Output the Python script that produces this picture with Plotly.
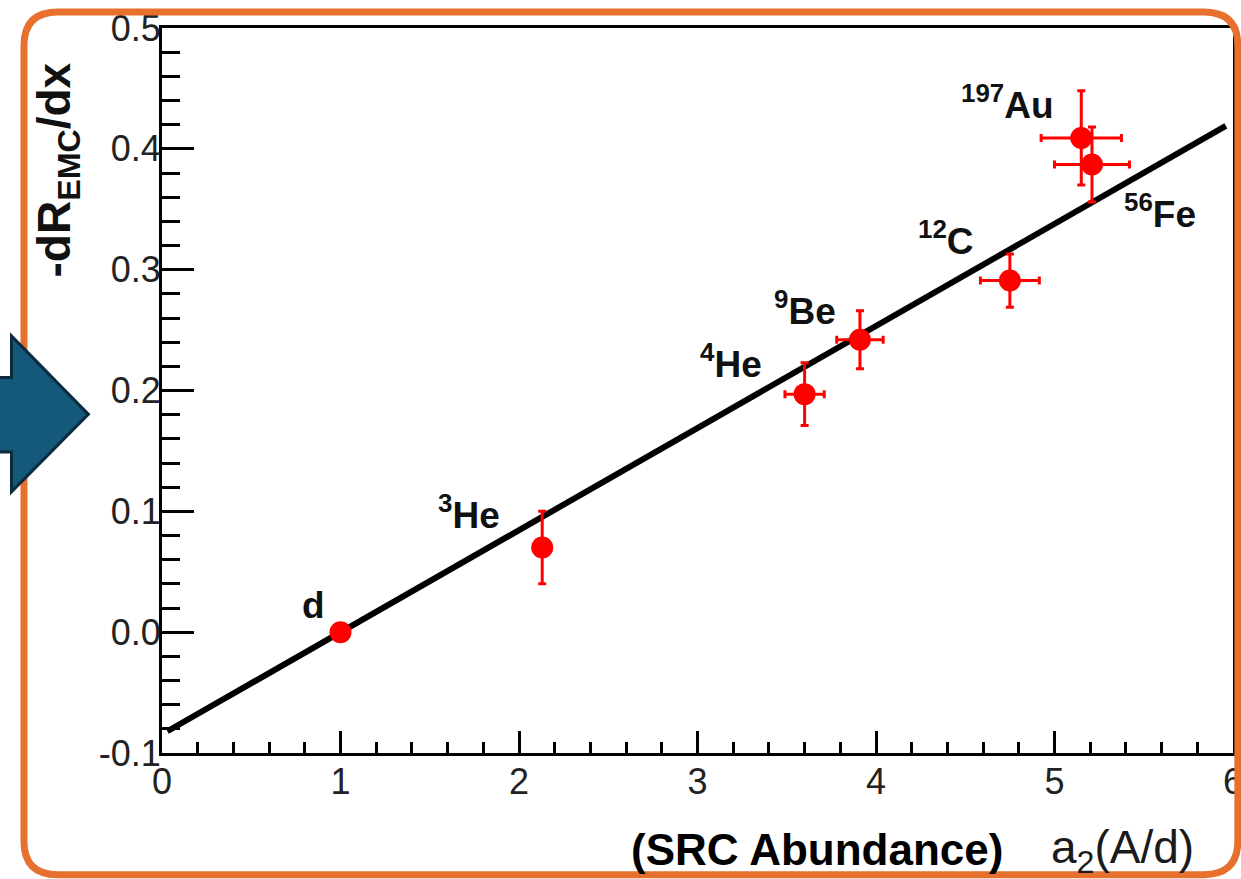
import plotly.graph_objects as go

# ---------------- data ----------------
nuclei = ["d", "<sup>3</sup>He", "<sup>4</sup>He", "<sup>9</sup>Be", "<sup>12</sup>C", "<sup>197</sup>Au", "<sup>56</sup>Fe"]
a2 = [1.00, 2.13, 3.60, 3.91, 4.75, 5.15, 5.21]
a2_err = [0.0, 0.0, 0.11, 0.13, 0.165, 0.225, 0.21]
emc_slope = [0.000, 0.070, 0.197, 0.242, 0.291, 0.409, 0.387]
emc_err = [0.0, 0.030, 0.026, 0.024, 0.022, 0.039, 0.031]

# label positions (data units)
label_x = [0.85, 1.72, 3.185, 3.605, 4.39, 4.735, 5.59]
label_y = [0.022, 0.099, 0.224, 0.268, 0.326, 0.438, 0.348]

# linear fit end points
fit_x = [0.03, 5.96]
fit_y = [-0.082, 0.419]

x_ticks = [0, 1, 2, 3, 4, 5, 6]
x_ticktext = ["0", "1", "2", "3", "4", "5", "6"]
y_ticks = [-0.1, 0.0, 0.1, 0.2, 0.3, 0.4, 0.5]
y_ticktext = ["-0.1", "0.0", "0.1", "0.2", "0.3", "0.4", "0.5"]

# ---------------- geometry ----------------
SX = 1.008  # the page is captured slightly narrower than drawn; compensate
WIDTH, HEIGHT = round(1241 * SX), 879
L, R, T, B = round(161 * SX), round(1233 * SX), 23, 753
PW, PH = R - L, B - T


def pxx(x):
    return (x * SX - L) / PW


def pxy(y):
    return (B - y) / PH


def px(x, y):
    return f"{pxx(x):.5f},{pxy(y):.5f}"


FONT = "Liberation Sans, Arial, Helvetica, sans-serif"

fig = go.Figure()

fig.add_trace(go.Scatter(
    x=fit_x, y=fit_y, mode="lines",
    line=dict(color="black", width=6),
    hoverinfo="skip", showlegend=False,
))

fig.add_trace(go.Scatter(
    x=a2, y=emc_slope, mode="markers",
    marker=dict(color="#ff0000", size=22, line=dict(width=0)),
    error_x=dict(type="data", array=a2_err, color="#ff0000", thickness=3, width=4),
    error_y=dict(type="data", array=emc_err, color="#ff0000", thickness=3, width=4),
    showlegend=False,
))

annotations = []
for name, lx, ly in zip(nuclei, label_x, label_y):
    annotations.append(dict(
        x=lx, y=ly, xref="x", yref="y", text=f"<b>{name}</b>",
        showarrow=False, xanchor="center", yanchor="middle",
        font=dict(family=FONT, size=37, color="#111111"),
    ))

# y-axis title
annotations.append(dict(
    x=pxx(56), y=pxy(166), xref="paper", yref="paper",
    text="<b>-dR<sub>EMC</sub>/dx</b>", textangle=-90,
    showarrow=False, xanchor="center", yanchor="middle",
    font=dict(family=FONT, size=46, color="#111111"),
))
# x-axis titles
annotations.append(dict(
    x=pxx(817), y=pxy(850), xref="paper", yref="paper",
    text="<b>(SRC Abundance)</b>", showarrow=False,
    xanchor="center", yanchor="middle",
    font=dict(family=FONT, size=44, color="black"),
))
annotations.append(dict(
    x=pxx(1122), y=pxy(851), xref="paper", yref="paper",
    text="a<sub>2</sub>(A/d)", showarrow=False,
    xanchor="center", yanchor="middle",
    font=dict(family=FONT, size=46, color="#1a1a1a"),
))

# shapes: orange rounded border and blue arrow
bl, br, bt, bb, rr = 22.5, 1238.0, 7, 875.5, 34
border_path = (
    f"M {px(bl, bt + rr)} Q {px(bl, bt)} {px(bl + rr, bt)} "
    f"L {px(br - rr, bt)} Q {px(br, bt)} {px(br, bt + rr)} "
    f"L {px(br, bb - rr)} Q {px(br, bb)} {px(br - rr, bb)} "
    f"L {px(bl + rr, bb)} Q {px(bl, bb)} {px(bl, bb - rr)} Z"
)
arrow_path = (
    f"M {px(-10, 375)} L {px(10, 375)} L {px(10, 333)} L {px(87, 412)} "
    f"L {px(10, 490)} L {px(10, 450)} L {px(-10, 450)} Z"
)
shapes = [
    dict(type="path", xref="paper", yref="paper", path=border_path,
         line=dict(color="#E8702E", width=7), fillcolor="rgba(0,0,0,0)", layer="above"),
    dict(type="path", xref="paper", yref="paper", path=arrow_path,
         line=dict(color="#0C2B3E", width=3), fillcolor="#14587A", layer="above"),
]

axis_common = dict(
    showgrid=False, zeroline=False, showline=True, linecolor="black",
    linewidth=3, mirror=True, ticks="inside", tickcolor="black", tickwidth=2.5,
    ticklabeloverflow="allow",
    tickfont=dict(family=FONT, size=36, color="#222222"),
)

fig.update_layout(
    width=WIDTH, height=HEIGHT, autosize=False,
    margin=dict(l=L, r=WIDTH - R, t=T, b=HEIGHT - B, pad=0),
    paper_bgcolor="white", plot_bgcolor="white",
    xaxis=dict(range=[0, 6], tickvals=x_ticks, ticktext=x_ticktext, ticklen=22,
               ticklabelstandoff=-5,
               minor=dict(ticks="inside", dtick=0.2, ticklen=11, tickwidth=2.5, tickcolor="black"),
               **axis_common),
    yaxis=dict(range=[-0.1, 0.5], tickvals=y_ticks, ticktext=y_ticktext, ticklen=32,
               ticklabelstandoff=-9,
               minor=dict(ticks="inside", dtick=0.02, ticklen=18, tickwidth=2.5, tickcolor="black"),
               **axis_common),
    annotations=annotations,
    shapes=shapes,
    showlegend=False,
)

# remove the default page margin so the figure fills the window exactly
post = "document.body.style.margin='0';document.body.style.overflow='hidden';"
fig.write_html(
    "out.html",
    config={"responsive": False, "displayModeBar": False},
    post_script=post,
)
